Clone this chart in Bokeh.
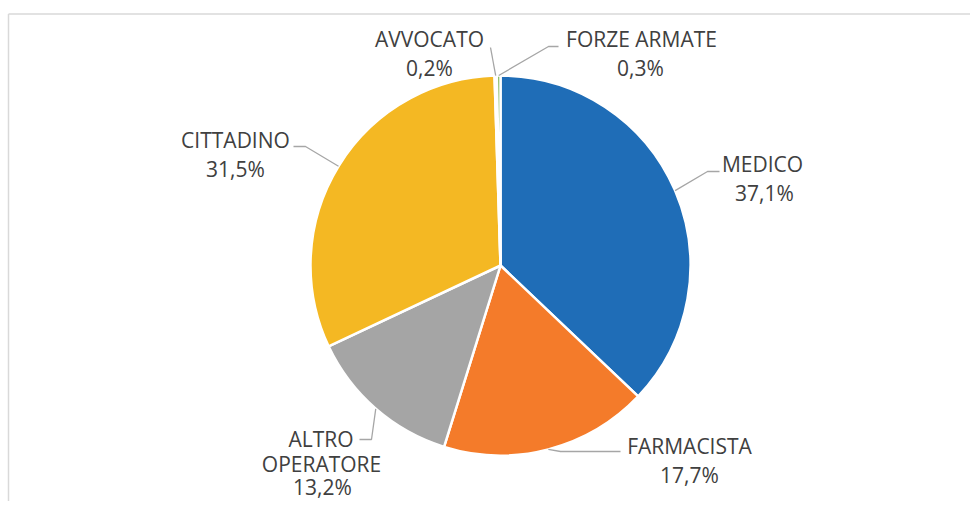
import math
from bokeh.plotting import figure
from bokeh.models import Range1d, ColumnDataSource
from bokeh.core.properties import value
from bokeh.embed import file_html
from bokeh.resources import INLINE

# ---- data ----
categories = ["MEDICO", "FARMACISTA", "ALTRO OPERATORE", "CITTADINO", "AVVOCATO", "FORZE ARMATE"]
shares = [37.1, 17.7, 13.2, 31.5, 0.2, 0.3]
pct_labels = ["37,1%", "17,7%", "13,2%", "31,5%", "0,2%", "0,3%"]

# ---- style / layout ----
colors = ["#1F6DB7", "#F47B2A", "#A5A5A5", "#F4B823", "#4472C4", "#70AD47"]
W, H = 970, 501
CX, CY, R = 500, 265, 190          # picture-pixel layout of the pie
label_lines = {
    "MEDICO": [("MEDICO", 762, 163), (None, 764, 192)],
    "FARMACISTA": [("FARMACISTA", 689, 445), (None, 689, 474)],
    "ALTRO OPERATORE": [("ALTRO", 320.5, 438), ("OPERATORE", 321, 463), (None, 322, 486)],
    "CITTADINO": [("CITTADINO", 235, 139), (None, 235, 168.5)],
    "AVVOCATO": [("AVVOCATO", 429, 38.5), (None, 429, 67)],
    "FORZE ARMATE": [("FORZE ARMATE", 641, 38.5), (None, 640, 67)],
}
leader_tail = {
    "MEDICO": [(707, 171), (719, 171)],
    "FARMACISTA": [(560, 451), (620, 451)],
    "ALTRO OPERATORE": [(371, 439), (359, 439)],
    "CITTADINO": [(305, 146), (293, 146)],
    "AVVOCATO": [(490, 47)],
    "FORZE ARMATE": [(548, 46), (558, 46)],
}

def py(y):  # picture y -> data y (y up)
    return -y

p = figure(width=W, height=H, output_backend="svg", toolbar_location=None,
           x_range=Range1d(0, W), y_range=Range1d(-H, 0),
           min_border=0, outline_line_color=None)
p.axis.visible = False
p.grid.visible = False
p.background_fill_color = "white"
p.border_fill_color = "white"

# chart-area frame (light gray), running off the right and bottom
p.segment(x0=[8, 8], y0=[py(13.5), py(13.5)], x1=[8, 1000], y1=[py(520), py(13.5)],
          line_color="#D9D9D9", line_width=1.5)

total = sum(shares)
starts, ends, mids = [], [], []
acc = 0.0
for s in shares:
    a0 = acc / total * 360.0
    acc += s
    a1 = acc / total * 360.0
    starts.append(math.radians(90 - a0))
    ends.append(math.radians(90 - a1))
    mids.append((a0 + a1) / 2)

src = ColumnDataSource(dict(start=starts, end=ends, color=colors, cat=categories))
p.wedge(x=CX, y=py(CY), radius=R, start_angle="start", end_angle="end", direction="clock",
        fill_color="color", line_color="white", line_width=2.5, source=src)

# leader lines
for cat, m in zip(categories, mids):
    ex = CX + R * math.sin(math.radians(m))
    ey = CY - R * math.cos(math.radians(m))
    pts = [(ex, ey)] + leader_tail[cat]
    p.line([q[0] for q in pts], [py(q[1]) for q in pts], line_color="#A6A6A6", line_width=1.3)

# labels
tx, ty, tt = [], [], []
for cat, pl in zip(categories, pct_labels):
    for txt, x, y in label_lines[cat]:
        tx.append(x)
        ty.append(py(y))
        tt.append(txt if txt is not None else pl)
p.text(x=tx, y=ty, text=tt, text_align="center", text_baseline="middle",
       text_font=value("Open Sans"), text_font_size="21px", text_color="#404040")

open("out.html", "w").write(file_html(p, INLINE))
